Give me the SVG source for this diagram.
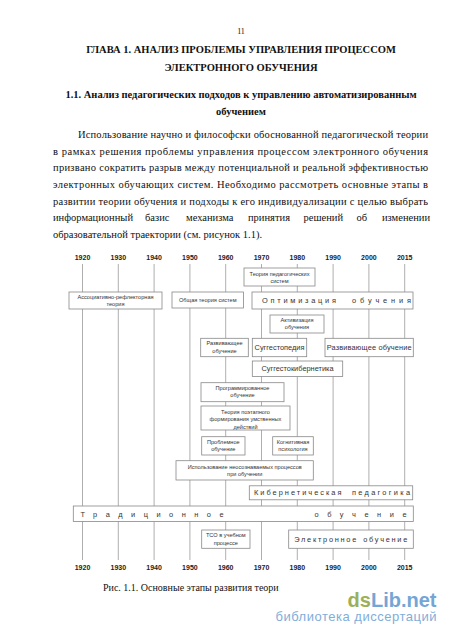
<svg xmlns="http://www.w3.org/2000/svg" width="450" height="637" viewBox="0 0 450 637">
<style>
.pg{font-family:"Liberation Serif","Times New Roman",serif;fill:#111}
.h{font-weight:bold;font-size:10.5px;text-anchor:middle}
.b{font-size:10.5px}
.yr{font-family:"Liberation Sans",Arial,sans-serif;font-weight:bold;font-size:7px;fill:#222;text-anchor:middle}
.ln{stroke:#9a9a9a;stroke-width:0.8;fill:none}
.bx{fill:#fff;stroke:#888;stroke-width:0.8}
.t{font-family:"Liberation Sans",Arial,sans-serif;font-size:5.6px;fill:#333;text-anchor:middle}
.tm{font-family:"Liberation Sans",Arial,sans-serif;font-size:7.4px;fill:#333;text-anchor:middle}
.sp{font-family:"Liberation Sans",Arial,sans-serif;font-size:7.4px;fill:#333}
</style>
<rect width="450" height="637" fill="#fff"/>
<text class="pg" x="241" y="34" font-size="8" text-anchor="middle">11</text>
<text class="pg h" x="241" y="53">ГЛАВА 1. АНАЛИЗ ПРОБЛЕМЫ УПРАВЛЕНИЯ ПРОЦЕССОМ</text>
<text class="pg h" x="241" y="71">ЭЛЕКТРОННОГО ОБУЧЕНИЯ</text>
<text class="pg h" x="241" y="98">1.1. Анализ педагогических подходов к управлению автоматизированным</text>
<text class="pg h" x="241" y="115">обучением</text>
<g class="pg b">
<text x="78" y="137.5" textLength="350" lengthAdjust="spacing">Использование научно и философски обоснованной педагогической теории</text>
<text x="53" y="154.5" textLength="375" lengthAdjust="spacing">в рамках решения проблемы управления процессом электронного обучения</text>
<text x="53" y="171" textLength="375" lengthAdjust="spacing">призвано сократить разрыв между потенциальной и реальной эффективностью</text>
<text x="53" y="188" textLength="375" lengthAdjust="spacing">электронных обучающих систем. Необходимо рассмотреть основные этапы в</text>
<text x="53" y="204.5" textLength="375" lengthAdjust="spacing">развитии теории обучения и подходы к его индивидуализации с целью выбрать</text>
<text y="221"><tspan x="53">информационный</tspan><tspan x="145">базис</tspan><tspan x="186">механизма</tspan><tspan x="248">принятия</tspan><tspan x="303.5">решений</tspan><tspan x="356.5">об</tspan><tspan x="382">изменении</tspan></text>
<text x="53" y="238">образовательной траектории (см. рисунок 1.1).</text>
</g>
<g id="years-top">
<text class="yr" x="82.5" y="259.8">1920</text>
<text class="yr" x="118.3" y="259.8">1930</text>
<text class="yr" x="154.1" y="259.8">1940</text>
<text class="yr" x="189.9" y="259.8">1950</text>
<text class="yr" x="225.7" y="259.8">1960</text>
<text class="yr" x="261.5" y="259.8">1970</text>
<text class="yr" x="297.3" y="259.8">1980</text>
<text class="yr" x="333.1" y="259.8">1990</text>
<text class="yr" x="368.9" y="259.8">2000</text>
<text class="yr" x="404.7" y="259.8">2015</text>
</g>
<g id="connectors">
<line class="ln" x1="82.5" y1="264" x2="82.5" y2="560"/>
<line class="ln" x1="118.3" y1="264" x2="118.3" y2="560"/>
<line class="ln" x1="154.1" y1="264" x2="154.1" y2="560"/>
<line class="ln" x1="189.9" y1="264" x2="189.9" y2="560"/>
<line class="ln" x1="225.7" y1="264" x2="225.7" y2="560"/>
<line class="ln" x1="261.5" y1="264" x2="261.5" y2="560"/>
<line class="ln" x1="297.3" y1="264" x2="297.3" y2="560"/>
<line class="ln" x1="333.1" y1="264" x2="333.1" y2="560"/>
<line class="ln" x1="368.9" y1="264" x2="368.9" y2="560"/>
<line class="ln" x1="404.7" y1="264" x2="404.7" y2="560"/>
</g>
<g id="years-bottom">
<text class="yr" x="82.5" y="569.5">1920</text>
<text class="yr" x="118.3" y="569.5">1930</text>
<text class="yr" x="154.1" y="569.5">1940</text>
<text class="yr" x="189.9" y="569.5">1950</text>
<text class="yr" x="225.7" y="569.5">1960</text>
<text class="yr" x="261.5" y="569.5">1970</text>
<text class="yr" x="297.3" y="569.5">1980</text>
<text class="yr" x="333.1" y="569.5">1990</text>
<text class="yr" x="368.9" y="569.5">2000</text>
<text class="yr" x="404.7" y="569.5">2015</text>
</g>
<g id="n-ped-systems"><rect class="bx" x="244" y="268" width="71" height="18"/><text class="t" x="279.5" y="275.8">Теория педагогических</text><text class="t" x="279.5" y="282.6">систем</text></g>
<g id="n-optim"><rect class="bx" x="252" y="292" width="161" height="17"/><text class="sp" x="262" y="302.8" textLength="74" lengthAdjust="spacing">Оптимизация</text><text class="sp" x="352" y="302.8" textLength="59" lengthAdjust="spacing">обучения</text></g>
<g id="n-assoc"><rect class="bx" x="69" y="292" width="93" height="17"/><text class="t" x="115.5" y="298.8">Ассоциативно-рефлекторная</text><text class="t" x="115.5" y="305.8">теория</text></g>
<g id="n-systems"><rect class="bx" x="172" y="292" width="71.5" height="16"/><text class="t" x="207.8" y="302">Общая теория систем</text></g>
<g id="n-activ"><rect class="bx" x="270" y="315" width="54" height="18"/><text class="t" x="297" y="322">Активизация</text><text class="t" x="297" y="329">обучения</text></g>
<g id="n-dev-small"><rect class="bx" x="200.7" y="338.3" width="47.6" height="18.4"/><text class="t" x="224.5" y="345">Развивающее</text><text class="t" x="224.5" y="352.5">обучение</text></g>
<g id="n-suggesto"><rect class="bx" x="252.3" y="338.3" width="54.4" height="18.4"/><text class="tm" x="279.5" y="350.2">Суггестопедия</text></g>
<g id="n-dev-big"><rect class="bx" x="325" y="338.3" width="88.3" height="18.4"/><text class="tm" x="369.2" y="350.2" textLength="85">Развивающее обучение</text></g>
<g id="n-suggestocyb"><rect class="bx" x="252.3" y="361" width="90.4" height="15.5"/><text class="tm" x="297.5" y="371">Суггестокибернетика</text></g>
<g id="n-program"><rect class="bx" x="201" y="382.7" width="83" height="19"/><text class="t" x="242.5" y="389.5">Программированное</text><text class="t" x="242.5" y="397">обучение</text></g>
<g id="n-stage"><rect class="bx" x="201" y="406" width="89" height="24"/><text class="t" x="245.5" y="413.5">Теория поэтапного</text><text class="t" x="245.5" y="421">формирования умственных</text><text class="t" x="245.5" y="428.5">действий</text></g>
<g id="n-problem"><rect class="bx" x="201.7" y="436.7" width="43.3" height="18.3"/><text class="t" x="223.3" y="443.5">Проблемное</text><text class="t" x="223.3" y="451">обучение</text></g>
<g id="n-cognitive"><rect class="bx" x="272.7" y="436.7" width="40.6" height="18.3"/><text class="t" x="293" y="443.5">Когнитивная</text><text class="t" x="293" y="451">психология</text></g>
<g id="n-unconscious"><rect class="bx" x="176" y="460.7" width="137.3" height="19.3"/><text class="t" x="244.7" y="468.6">Использование неосознаваемых процессов</text><text class="t" x="244.7" y="476.2">при обучении</text></g>
<g id="n-cyberped"><rect class="bx" x="249.3" y="485.8" width="163.4" height="14"/><text class="sp" x="254" y="495" textLength="87.5" lengthAdjust="spacing">Кибернетическая</text><text class="sp" x="352" y="495" textLength="58" lengthAdjust="spacing">педагогика</text></g>
<g id="n-tradition"><rect class="bx" x="73.3" y="506" width="340" height="15.5"/><text class="sp" x="80.5" y="516.5" textLength="143" lengthAdjust="spacing">Традиционное</text><text class="sp" x="314.5" y="516.5" textLength="92" lengthAdjust="spacing">обучение</text></g>
<g id="n-tso"><rect class="bx" x="201.7" y="530" width="48.3" height="18.3"/><text class="t" x="225.8" y="537">ТСО в учебном</text><text class="t" x="225.8" y="544.5">процессе</text></g>
<g id="n-elearn"><rect class="bx" x="288.7" y="530" width="124.6" height="18.3"/><text class="sp" x="294.3" y="541.8" textLength="62" lengthAdjust="spacing">Электронное</text><text class="sp" x="363.3" y="541.8" textLength="44" lengthAdjust="spacing">обучение</text></g>
<text class="pg" x="103" y="590.5" font-size="10">Рис. 1.1. Основные этапы развития теори</text>
<text x="436.5" y="607" text-anchor="end" font-family="Liberation Sans,Arial,sans-serif" font-weight="bold" font-size="20" opacity="0.85"><tspan fill="#8aa33a">ds</tspan><tspan fill="#5b97cf">Lib.net</tspan></text>
<text x="436.5" y="621" text-anchor="end" font-family="Liberation Sans,Arial,sans-serif" font-size="13" fill="#6a9fd4" opacity="0.85" textLength="161">библиотека диссертаций</text>
</svg>
